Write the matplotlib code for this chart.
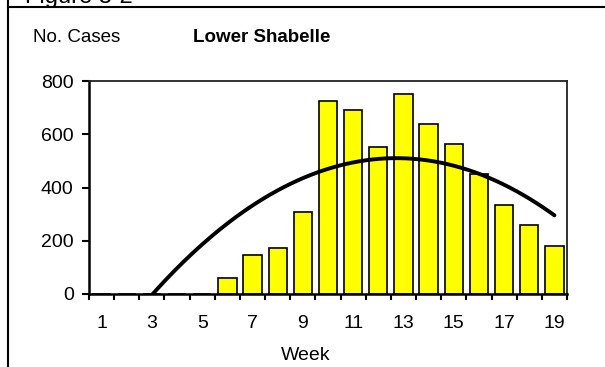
import numpy as np
import matplotlib
matplotlib.use("Agg")
import matplotlib.pyplot as plt
from matplotlib.lines import Line2D

weeks = list(range(1, 20))
cases = [0, 0, 0, 0, 0, 59, 147, 171, 309, 724, 690, 552, 751, 638, 562, 452, 336, 259, 181]
tick_weeks = [1, 3, 5, 7, 9, 11, 13, 15, 17, 19]
y_ticks = [0, 200, 400, 600, 800]

plt.rcParams["font.family"] = ["Liberation Sans", "DejaVu Sans"]

fig = plt.figure(figsize=(6.05, 3.67), dpi=100)
ax = fig.add_axes([89 / 605, 73 / 367, 478 / 605, 213 / 367])

ax.bar(weeks, cases, width=0.73, color="#FFFF00", edgecolor="black", linewidth=1.2, zorder=2)

# polynomial trend line (order 2), like the spreadsheet one
coef = np.polyfit(weeks, cases, 2)
xs = np.linspace(1, 19, 200)
ax.plot(xs, np.polyval(coef, xs), color="black", lw=2.8, solid_capstyle="round", zorder=3)

ax.set_xlim(0.5, 19.5)
ax.set_ylim(0, 800)
ax.set_yticks(y_ticks)
ax.set_xticks(tick_weeks)
ax.set_xticks(np.arange(0.5, 20, 1), minor=True)
ax.tick_params(axis="x", which="major", length=0, pad=15, labelsize=14)
ax.tick_params(axis="x", which="minor", length=4.5, width=1.5, direction="out")
ax.tick_params(axis="y", length=5, width=1.5, direction="out", labelsize=14, pad=6)

for s in ["left", "bottom"]:
    ax.spines[s].set_linewidth(1.8)
    ax.spines[s].set_color("black")
for s in ["top", "right"]:
    ax.spines[s].set_linewidth(1.3)
    ax.spines[s].set_color("#222222")

fig.text(306 / 605, 1 - 355 / 367, "Week", fontsize=14, va="center", ha="center")
fig.text(33 / 605, 1 - 37 / 367, "No. Cases", fontsize=13.5, va="center", ha="left")
fig.text(262 / 605, 1 - 37 / 367, "Lower Shabelle", fontsize=13.5, fontweight="bold",
         va="center", ha="center")
fig.text(25 / 605, 1 - 3 / 367, "Figure 3-2", fontsize=17, va="baseline", ha="left")

# page frame lines
fig.add_artist(Line2D([8 / 605, 8 / 605], [0, 1], color="black", lw=1.5, transform=fig.transFigure))
fig.add_artist(Line2D([8 / 605, 1], [1 - 7 / 367, 1 - 7 / 367], color="black", lw=1.5,
                      transform=fig.transFigure))

fig.savefig("out.png", dpi=100)
